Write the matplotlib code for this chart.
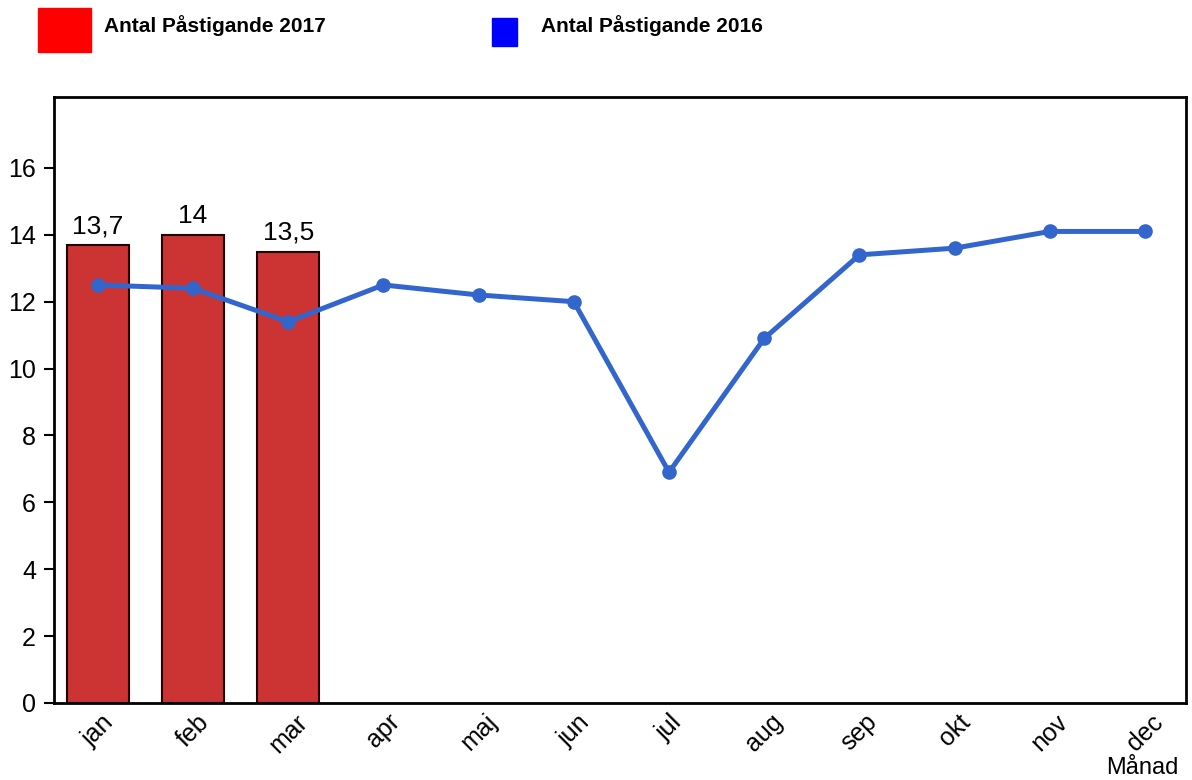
import matplotlib
matplotlib.use("Agg")
import matplotlib.pyplot as plt
from matplotlib.patches import Rectangle
from matplotlib.transforms import ScaledTranslation

plt.rcParams['font.family'] = ['Liberation Sans', 'DejaVu Sans']

months = ["jan", "feb", "mar", "apr", "maj", "jun", "jul", "aug", "sep", "okt", "nov", "dec"]
values_2017 = [13.7, 14.0, 13.5]
labels_2017 = ["13,7", "14", "13,5"]
values_2016 = [12.5, 12.4, 11.4, 12.5, 12.2, 12.0, 6.9, 10.9, 13.4, 13.6, 14.1, 14.1]
yticks = [0, 2, 4, 6, 8, 10, 12, 14, 16]

fig = plt.figure(figsize=(11.92, 7.8), dpi=100)
ax = fig.add_axes([54/1192, 1 - 703/780, (1186-54)/1192, (703-97)/780])

x17 = list(range(len(values_2017)))
x16 = list(range(len(values_2016)))

ax.bar(x17, values_2017, width=0.65, color="#CC3333", edgecolor="#220000", linewidth=1.5, zorder=2)
for xi, v, lab in zip(x17, values_2017, labels_2017):
    ax.text(xi, v + 0.2, lab, ha="center", va="bottom", fontsize=19, zorder=4)

ax.plot(x16, values_2016, color="#3366CC", linewidth=3.6, marker="o", markersize=9.5, zorder=3)

ax.set_xlim(-0.46, 11.43)
ax.set_ylim(0, 18.12)
ax.set_yticks(yticks)
ax.set_yticklabels([str(t) for t in yticks], fontsize=18)
ax.set_xticks(x16)
ax.set_xticklabels(months, fontsize=18, rotation=45, ha="center", va="top")
offset = ScaledTranslation(-5/100, 0, fig.dpi_scale_trans)
for lbl in ax.get_xticklabels():
    lbl.set_transform(lbl.get_transform() + offset)
ax.tick_params(axis="y", direction="out", length=7, width=1.5, pad=6)
ax.tick_params(axis="x", length=0, pad=5)
for s in ax.spines.values():
    s.set_linewidth(2)
    s.set_color("black")

fig.text(1178/1192, 1 - 768/780, "Månad", ha="right", va="center", fontsize=17)

# legend
fig.patches.append(Rectangle((38/1192, 1 - 52/780), 53/1192, 44/780, transform=fig.transFigure, color="#FF0000", figure=fig))
fig.patches.append(Rectangle((492/1192, 1 - 46/780), 25/1192, 28/780, transform=fig.transFigure, color="#0000FF", figure=fig))
fig.text(104/1192, 1 - 26/780, "Antal Påstigande 2017", ha="left", va="center", fontsize=15, fontweight="bold")
fig.text(541/1192, 1 - 26/780, "Antal Påstigande 2016", ha="left", va="center", fontsize=15, fontweight="bold")

fig.savefig("out.png", dpi=100)
